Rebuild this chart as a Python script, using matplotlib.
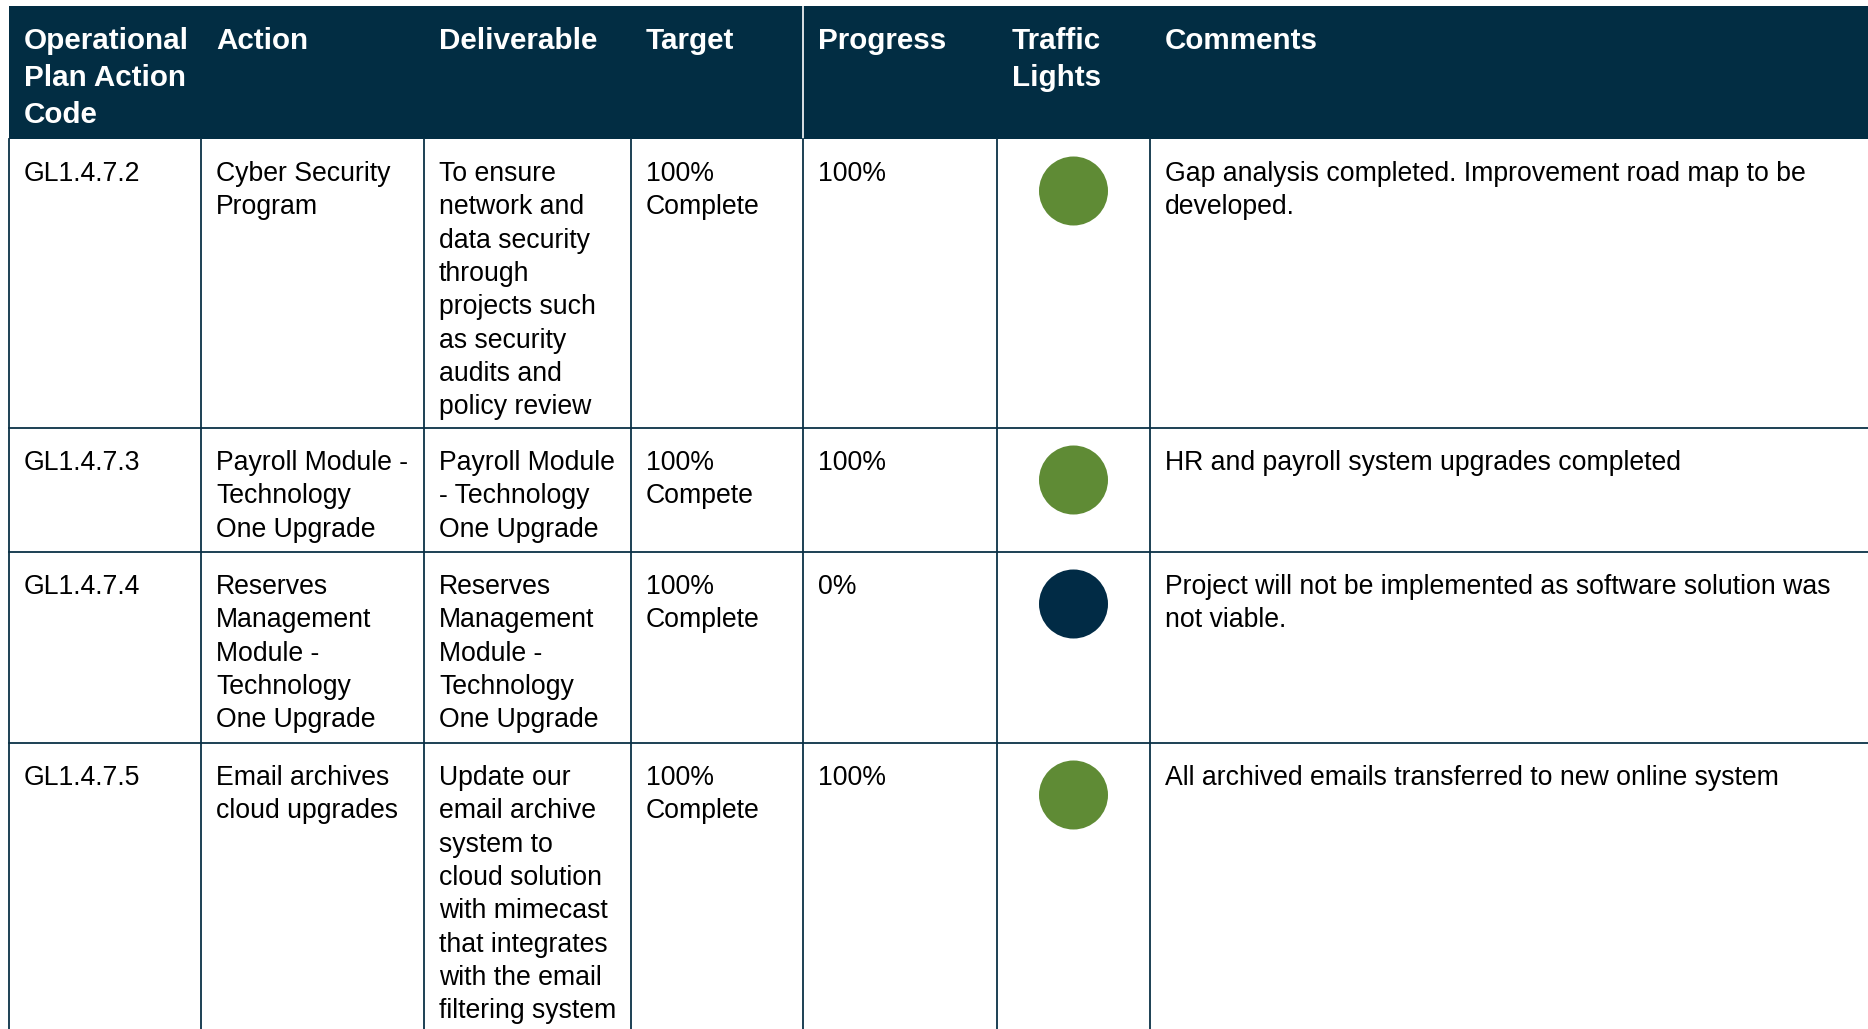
import matplotlib
matplotlib.use("Agg")
import matplotlib.pyplot as plt
from matplotlib.patches import Rectangle, Circle

# ---- data ----
headers = ["Operational\nPlan Action\nCode", "Action", "Deliverable", "Target",
           "Progress", "Traffic\nLights", "Comments"]
codes = ["GL1.4.7.2", "GL1.4.7.3", "GL1.4.7.4", "GL1.4.7.5"]
actions = ["Cyber Security\nProgram",
           "Payroll Module -\nTechnology\nOne Upgrade",
           "Reserves\nManagement\nModule -\nTechnology\nOne Upgrade",
           "Email archives\ncloud upgrades"]
deliverables = ["To ensure\nnetwork and\ndata security\nthrough\nprojects such\nas security\naudits and\npolicy review",
                "Payroll Module\n- Technology\nOne Upgrade",
                "Reserves\nManagement\nModule -\nTechnology\nOne Upgrade",
                "Update our\nemail archive\nsystem to\ncloud solution\nwith mimecast\nthat integrates\nwith the email\nfiltering system"]
targets = ["100%\nComplete", "100%\nCompete", "100%\nComplete", "100%\nComplete"]
progress = ["100%", "100%", "0%", "100%"]
lights = ["green", "green", "navy", "green"]
comments = ["Gap analysis completed. Improvement road map to be\ndeveloped.",
            "HR and payroll system upgrades completed",
            "Project will not be implemented as software solution was\nnot viable.",
            "All archived emails transferred to new online system"]

# ---- style / layout ----
NAVY = "#022D43"
GREEN = "#5F8B35"
LINE = "#0B3146"
light_colors = {"green": GREEN, "navy": "#012B45"}

W, H = 1868, 1029
col_edges = [9, 201, 424, 631, 803, 997, 1150, W]
header_top, header_bottom = 6, 139
row_edges = [139, 428, 552, 743, W]  # last row runs off the page
pad_x = 15
body_size = 19.2
head_size = 21.3
body_lh = 33.3
head_lh = 37.0
FONT = "Liberation Sans"

fig = plt.figure(figsize=(W / 100, H / 100), dpi=100)
ax = fig.add_axes([0, 0, 1, 1])
ax.set_xlim(0, W)
ax.set_ylim(H, 0)
ax.axis("off")


def put_lines(x, y0, text, size, lh, **kw):
    for i, line in enumerate(text.split("\n")):
        ax.text(x, y0 + i * lh, line, fontsize=size, family=FONT,
                va="baseline", ha="left", **kw)


# header
ax.add_patch(Rectangle((col_edges[0], header_top), W - col_edges[0],
                       header_bottom - header_top, facecolor=NAVY,
                       edgecolor="none", zorder=1))
ax.plot([col_edges[4], col_edges[4]], [header_top, header_bottom],
        color="white", lw=1.2, zorder=2)
for j, h in enumerate(headers):
    put_lines(col_edges[j] + pad_x, header_top + 43, h, head_size, head_lh,
              color="white", weight="bold", zorder=3)

# grid lines
for y in row_edges[1:-1]:
    ax.plot([col_edges[0], W], [y, y], color=LINE, lw=1.3, zorder=2)
for x in col_edges[:-1]:
    ax.plot([x, x], [header_bottom, H], color=LINE, lw=1.3, zorder=2)

# body
columns = [codes, actions, deliverables, targets, progress, None, comments]
for i in range(len(codes)):
    top = row_edges[i]
    for j, col in enumerate(columns):
        if col is None:
            cx = (col_edges[j] + col_edges[j + 1]) / 2
            ax.add_patch(Circle((cx, top + 52), 34.5,
                                facecolor=light_colors[lights[i]],
                                edgecolor="none", zorder=3))
        else:
            put_lines(col_edges[j] + pad_x, top + 42, col[i], body_size,
                      body_lh, color="black", zorder=3)

fig.savefig("out.png", dpi=100)
